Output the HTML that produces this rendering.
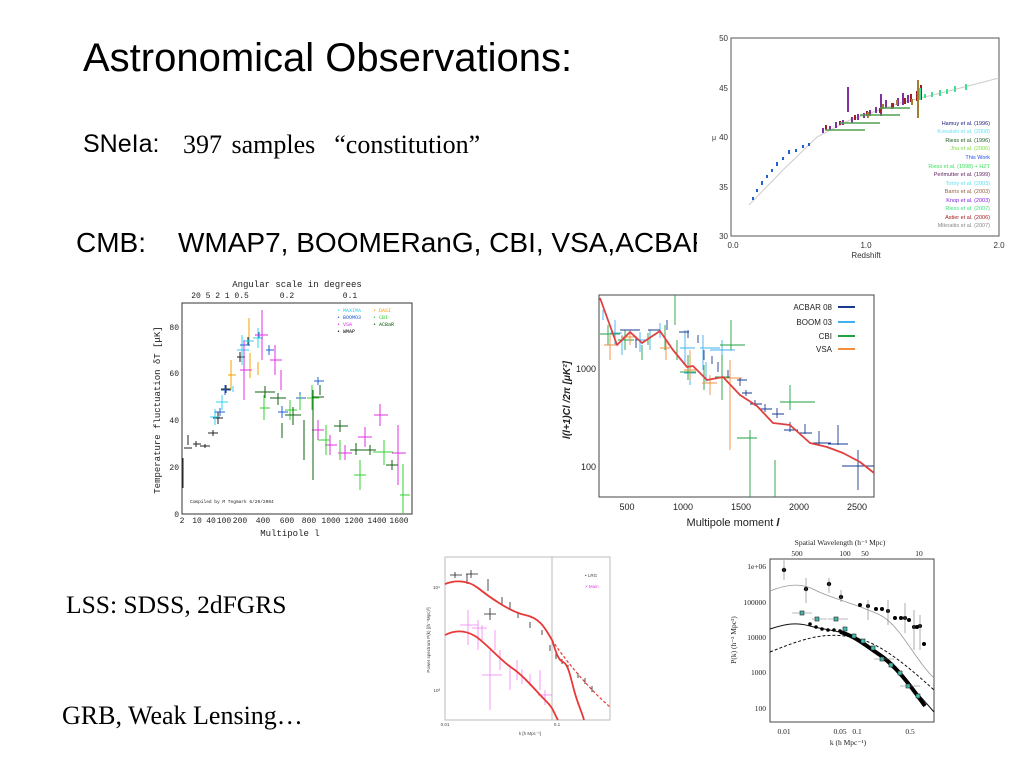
<!DOCTYPE html>
<html><head><meta charset="utf-8"><style>
body{margin:0;background:#fff;width:1024px;height:768px;overflow:hidden;position:relative;font-family:"Liberation Sans",sans-serif}
.t{position:absolute;white-space:nowrap;color:#000;line-height:1}
svg{position:absolute;left:0;top:0}
</style></head><body>
<div class="t" style="left:83px;top:38px;font-size:40px">Astronomical Observations:</div>
<div class="t" style="left:83px;top:132px;font-size:25px">SNeIa:</div>
<div class="t" style="left:183px;top:132px;font-size:26px;font-family:'Liberation Serif',serif;word-spacing:3px">397 samples &nbsp;“constitution”</div>
<div class="t" style="left:76px;top:229px;font-size:28px">CMB:</div>
<div class="t" style="left:178px;top:229px;font-size:28px">WMAP7, BOOMERanG, CBI, VSA,ACBAR</div>
<div class="t" style="left:66px;top:592px;font-size:25.5px;font-family:'Liberation Serif',serif">LSS: SDSS, 2dFGRS</div>
<div class="t" style="left:62px;top:703px;font-size:26px;font-family:'Liberation Serif',serif">GRB, Weak Lensing…</div>

<svg width="1024" height="768" viewBox="0 0 1024 768" font-family="Liberation Sans, sans-serif">
<defs><clipPath id="c2"><rect x="599" y="295" width="275" height="202"/></clipPath>
<clipPath id="c1"><rect x="182" y="303" width="230" height="211"/></clipPath></defs>
<!-- SN plot -->
<rect x="697" y="28" width="327" height="234" fill="#fff"/>
<rect x="731" y="38" width="268" height="198" fill="none" stroke="#555" stroke-width="1"/>
<g font-size="8" fill="#333" text-anchor="end">
<text x="728" y="41">50</text><text x="728" y="91">45</text><text x="728" y="140">40</text><text x="728" y="190">35</text><text x="728" y="239">30</text></g>
<g font-size="8" fill="#333" text-anchor="middle"><text x="733" y="248">0.0</text><text x="866" y="248">1.0</text><text x="999" y="248">2.0</text><text x="866" y="258">Redshift</text></g>
<text x="712" y="140" font-size="7" fill="#333">μ</text>
<polyline points="749,205 783,170 817,137 850,120 900,103 933,95 999,78" fill="none" stroke="#ccc" stroke-width="1"/>
<g stroke-width="2" fill="none">
<path d="M753,200v-3M757,192v-3M762,185v-4M767,178v-3M772,172v-3M777,166v-4M783,160v-3M789,154v-4M796,152v-3M803,148v-3M809,146v-3" stroke="#2060d0"/>
<path d="M823,133v-5M830,130v-4M836,128v-6M843,125v-5M848,112v-25M852,123v-6M858,120v-6M864,118v-5M870,116v-6M876,113v-6M881,116v-22M886,108v-8M892,109v-6M898,106v-8M903,105v-12M908,103v-8" stroke="#8030a0"/>
<path d="M826,130v-5M840,125v-4M855,120v-5M867,116v-5M880,113v-5M893,108v-5M905,104v-6M911,102v-8M917,101v-10M921,100v-15" stroke="#a02020"/>
<path d="M868,118v-6M883,109v-5M897,105v-5M912,105v-6M918,118v-38" stroke="#a08030"/>
<path d="M920,100v-12M925,98v-4M932,97v-5M940,96v-6M947,94v-5M955,92v-6M966,90v-6" stroke="#40e090"/>
<path d="M825,130h40M840,123h40M860,115h40M880,108h30" stroke="#50a050" stroke-width="1.5"/>
</g>
<g font-size="5.5" text-anchor="end">
<text x="990" y="125" fill="#202080">Hamuy et al. (1996)</text>
<text x="990" y="133" fill="#70e0f0">Kowalski et al. (2008)</text>
<text x="990" y="142" fill="#206020">Riess et al. (1996)</text>
<text x="990" y="150" fill="#80e040">Jha et al. (2006)</text>
<text x="990" y="159" fill="#2050f0">This Work</text>
<text x="990" y="168" fill="#40e060">Riess et al. (1998) + HZT</text>
<text x="990" y="176" fill="#602060">Perlmutter et al. (1999)</text>
<text x="990" y="185" fill="#60e0f0">Tonry et al. (2003)</text>
<text x="990" y="193" fill="#906040">Barris et al. (2003)</text>
<text x="990" y="202" fill="#8020e0">Knop et al. (2003)</text>
<text x="990" y="210" fill="#40e080">Riess et al. (2007)</text>
<text x="990" y="219" fill="#a02020">Astier et al. (2006)</text>
<text x="990" y="227" fill="#888">Miknaitis et al. (2007)</text>
</g>

<!-- Left CMB -->
<rect x="182" y="303" width="230" height="211" fill="none" stroke="#333"/>
<g font-family="Liberation Mono, monospace" font-size="8" fill="#222" text-anchor="middle">
<text x="297" y="287" font-size="9">Angular scale in degrees</text>
<text x="220" y="298">20 5 2 1 0.5</text><text x="287" y="298">0.2</text><text x="350" y="298">0.1</text>
<text x="182" y="523">2</text><text x="197" y="523">10</text><text x="211" y="523">40</text><text x="224" y="523">100</text><text x="240" y="523">200</text><text x="263" y="523">400</text><text x="287" y="523">600</text><text x="309" y="523">800</text><text x="331" y="523">1000</text><text x="354" y="523">1200</text><text x="377" y="523">1400</text><text x="399" y="523">1600</text>
<text x="290" y="536" font-size="9">Multipole l</text>
<g text-anchor="end"><text x="179" y="330">80</text><text x="179" y="376">60</text><text x="179" y="423">40</text><text x="179" y="470">20</text><text x="179" y="517">0</text></g>
<text transform="translate(160,410) rotate(-90)" font-size="9">Temperature fluctuation δT [μK]</text>
<text x="190" y="503" font-size="4.5" text-anchor="start">Compiled by M Tegmark 6/20/2004</text>
</g>
<g font-size="5" font-family="Liberation Mono, monospace">
<text x="337" y="312" fill="#30d0f0">• MAXIMA</text><text x="337" y="319" fill="#2060d0">• BOOMO3</text><text x="337" y="326" fill="#e030e0">• VSA</text><text x="337" y="333" fill="#000">• WMAP</text>
<text x="373" y="312" fill="#f0a000">• DASI</text><text x="373" y="319" fill="#30d030">• CBI</text><text x="373" y="326" fill="#106010">• ACBaR</text>
</g>
<g fill="none" stroke-width="1" clip-path="url(#c1)">
<path d="M183,488v-30M188,445v-10M184,448h8M196,447v-6M193,444h8M205,448v-4M200,446h10M213,436v-6M208,433h10M218,424v-12M213,418h10M226,393v-8M221,389h10M240,362v-10M237,357h8M248,345v-8M250,365v-6" stroke="#222"/>
<path d="M215,425v-16M210,417h10M222,410v-15M216,402h12M233,392v-6M242,365v-30M237,350h12M249,346v-10M244,341h10M258,348v-20M253,338h10" stroke="#30d0f0"/>
<path d="M220,416v-8M215,412h10M225,395v-10M221,390h10M244,350v-10M240,345h10M259,338v-6M255,335h10M269,355v-10M266,350h8M282,418v-12M278,412h10M300,404v-12M296,398h10M318,385v-8M314,381h10" stroke="#2060d0"/>
<path d="M231,390v-30M228,375h8M250,378v-25M249,338v-20M258,375v-13" stroke="#f0a000"/>
<path d="M244,400v-60M240,370h12M262,360v-50M256,335h12M275,375v-30M270,360h12M281,390v-20M318,440v-20M312,430h12M330,455v-20M325,445h12M345,460v-15M338,453h14M365,447v-20M358,437h14M380,426v-22M374,415h14M398,485v-60M392,453h14" stroke="#e030e0"/>
<path d="M264,420v-25M260,408h10M290,420v-20M285,410h12M300,410v-15M312,410v-25M307,398h12M326,455v-30M318,440h12M340,460v-20M360,490v-30M354,475h12M384,465v-25M373,452h20M403,514v-50M400,495h10" stroke="#30d030"/>
<path d="M265,398v-12M255,392h20M278,405v-12M270,398h16M282,438v-15M293,425v-18M285,415h16M304,460v-40M313,480v-90M312,397h12M320,395v-10M340,432v-12M334,426h14M356,455v-12M350,450h14M370,455v-10M362,450h14M392,470v-10M386,465h12" stroke="#106010"/>
</g>

<!-- Right CMB -->
<rect x="599" y="295" width="275" height="202" fill="none" stroke="#444"/>
<g font-size="9" fill="#222" text-anchor="middle">
<text x="627" y="510">500</text><text x="683" y="510">1000</text><text x="741" y="510">1500</text><text x="799" y="510">2000</text><text x="857" y="510">2500</text>
<text x="733" y="526" font-size="11">Multipole moment <tspan font-style="italic" font-weight="bold">l</tspan></text>
<g text-anchor="end"><text x="596" y="372">1000</text><text x="596" y="470">100</text></g>
<text transform="translate(570,400) rotate(-90)" font-size="10" font-weight="bold" font-style="italic">l(l+1)Cl /2π [μK²]</text>
</g>
<g font-size="8" fill="#222" text-anchor="end">
<text x="832" y="310">ACBAR 08</text><text x="832" y="325">BOOM 03</text><text x="832" y="339">CBI</text><text x="832" y="352">VSA</text></g>
<path d="M838,307h17" stroke="#1a3a90" stroke-width="2"/><path d="M838,322h17" stroke="#40b0f0" stroke-width="2"/><path d="M838,336h17" stroke="#20a040" stroke-width="2"/><path d="M838,349h17" stroke="#f09040" stroke-width="2"/>
<g fill="none" stroke-width="0.9" clip-path="url(#c2)">
<path d="M603,320v-10M615,345v-25M610,333h12M622,355v-20M640,352v-20M635,340h12M650,350v-20M660,338v-15M685,365v-35M680,348h15M690,385v-30M684,373h12M703,370v-35M700,348h20M706,382v-20M722,360v-20M710,350h25" stroke="#40b0f0"/>
<path d="M608,345v-20M600,334h20M625,350v-20M618,340h16M642,360v-15M648,345v-12M665,350v-25M675,325v-30M677,360v-20M688,380v-25M680,372h16M704,390v-25M722,400v-45M715,377h15M731,350v-30M720,345h25M750,560v-130M737,438h20M775,520v-60M790,410v-25M780,402h35" stroke="#20a040"/>
<path d="M610,360v-25M604,345h12M630,345v-15M621,337h16M666,360v-20M660,348h10M690,380v-30M684,370h12M710,395v-20M702,383h15M730,450v-90M718,378h24" stroke="#f09040"/>
<path d="M620,330h20M636,348v-10M648,330h12M667,330v-10M679,332h10M688,338v-8M698,343v-8M704,360v-10M712,364v-8M718,372v-10M728,378v-8M740,386v-8M737,380h10M746,396v-6M742,393h10M755,406v-6M750,404h12M765,412v-8M760,409h12M777,418v-10M772,414h12M790,432v-10M784,430h14M805,434v-10M798,433h14M819,446v-15M813,443h18M838,445v-20M828,444h20M858,490v-40M842,466h34" stroke="#1a3a90"/>
</g>
<polyline points="600,298 617,345 630,332 642,343 660,331 673,350 687,367 693,366 707,380 723,377 740,395 757,406 773,423 790,425 810,443 827,447 843,453 860,462 874,473" fill="none" stroke="#e04040" stroke-width="1.8" stroke-linejoin="round"/>

<!-- Left LSS -->
<rect x="445" y="557" width="165" height="163" fill="none" stroke="#bbb"/>
<path d="M552,557v163" stroke="#aaa" stroke-width="0.8"/>
<g font-size="4.5" fill="#444" text-anchor="middle">
<text x="445" y="726">0.01</text><text x="557" y="726">0.1</text><text x="530" y="735">k [h Mpc⁻¹]</text>
<text x="440" y="589" text-anchor="end">10⁴</text><text x="440" y="692" text-anchor="end">10³</text>
<text transform="translate(430,640) rotate(-90)">Power spectrum P(k) [(h⁻¹Mpc)³]</text>
<text x="585" y="577" text-anchor="start">• LRG</text><text x="585" y="588" text-anchor="start" fill="#e040e0">× Main</text>
</g>
<g stroke-width="0.8" fill="none">
<path d="M455,578v-6M450,575h12M467,584v-10M471,578v-8M466,574h12M488,591v-12M490,620v-12M484,614h12M502,605v-8M510,610v-8M518,618v-6M530,628v-6M542,635v-5M550,651v-6M556,659v-6M562,664v-5M568,670v-5M578,678v-5M585,684v-6M592,692v-6" stroke="#222"/>
<path d="M468,645v-35M460,625h18M478,650v-30M472,628h15M482,640v-15M490,710v-60M482,675h20M495,650v-20M500,670v-20M510,690v-25M517,680v-20M522,684v-15M530,686v-12M540,690v-20M545,705v-15M538,695h14" stroke="#f080f0"/>
</g>
<path d="M445,584 C455,580 468,580 478,588 S510,612 525,615 S545,628 552,640 C556,652 558,660 563,662 S570,675 574,690 S582,712 584,720" fill="none" stroke="#e83838" stroke-width="1.8"/>
<path d="M552,640 C565,660 590,690 610,707" fill="none" stroke="#e83838" stroke-width="1.2" stroke-dasharray="3,2"/>
<path d="M445,635 C455,630 465,630 475,636 S500,660 512,668 S535,690 545,700 S553,712 558,720" fill="none" stroke="#e83838" stroke-width="1.8"/>

<!-- Right LSS -->
<rect x="770" y="559" width="164" height="163" fill="none" stroke="#444"/>
<g font-family="Liberation Serif, serif" font-size="7.5" fill="#222" text-anchor="middle">
<text x="840" y="545">Spatial Wavelength (h⁻¹ Mpc)</text>
<text x="797" y="556">500</text><text x="845" y="556">100</text><text x="865" y="556">50</text><text x="919" y="556">10</text>
<text x="784" y="734">0.01</text><text x="840" y="734">0.05</text><text x="857" y="734">0.1</text><text x="910" y="734">0.5</text>
<text x="848" y="745">k (h Mpc⁻¹)</text>
<g text-anchor="end"><text x="766" y="569">1e+06</text><text x="766" y="605">100000</text><text x="766" y="640">10000</text><text x="766" y="675">1000</text><text x="766" y="711">100</text></g>
<text transform="translate(736,640) rotate(-90)">P(k) (h⁻³ Mpc³)</text>
</g>
<path d="M770,591 C785,585 800,582 815,590 S860,605 880,615 S915,660 934,678" fill="none" stroke="#999" stroke-width="0.8"/>
<path d="M770,629 C785,624 795,622 810,626 S840,630 855,638 S900,672 934,712" fill="none" stroke="#111" stroke-width="1"/>
<path d="M770,652 C800,640 820,633 845,636 S890,650 934,690" fill="none" stroke="#111" stroke-width="1" stroke-dasharray="3,2"/>
<g fill="#000">
<circle cx="784" cy="570" r="2.2"/><circle cx="806" cy="589" r="2.2"/><circle cx="829" cy="584" r="2.2"/><circle cx="841" cy="597" r="2.2"/><circle cx="860" cy="605" r="2"/><circle cx="868" cy="606" r="2"/><circle cx="876" cy="609" r="2"/><circle cx="882" cy="609" r="2"/><circle cx="888" cy="611" r="2"/><circle cx="895" cy="618" r="2"/><circle cx="901" cy="618" r="2"/><circle cx="905" cy="618" r="2"/><circle cx="909" cy="620" r="2"/><circle cx="914" cy="627" r="2"/><circle cx="917" cy="627" r="2"/><circle cx="920" cy="626" r="2"/><circle cx="924" cy="644" r="2"/>
<circle cx="810" cy="624" r="1.8"/><circle cx="816" cy="627" r="1.8"/><circle cx="822" cy="629" r="1.8"/><circle cx="828" cy="630" r="1.8"/><circle cx="834" cy="630" r="1.8"/><circle cx="840" cy="631" r="1.8"/>
</g>
<path d="M840,632 C855,636 865,645 880,655 S910,685 925,706" fill="none" stroke="#000" stroke-width="4"/>
<g fill="#40c0b0" stroke="#222" stroke-width="0.6">
<rect x="800" y="611" width="4" height="4"/><rect x="815" y="617" width="4" height="4"/><rect x="834" y="617" width="4" height="4"/><rect x="843" y="627" width="4" height="4"/><rect x="852" y="634" width="4" height="4"/><rect x="861" y="639" width="4" height="4"/><rect x="871" y="646" width="4" height="4"/><rect x="880" y="657" width="4" height="4"/><rect x="889" y="663" width="4" height="4"/><rect x="898" y="671" width="4" height="4"/><rect x="906" y="684" width="4" height="4"/><rect x="916" y="694" width="4" height="4"/>
</g>
<g stroke="#777" stroke-width="0.6" fill="none">
<path d="M784,560v20M806,578v25M829,578v15M841,590v12M868,600v20M888,600v25M905,603v30M914,610v40M920,615v35"/>
<path d="M792,613h20M812,619h15M828,619h20M874,659h20M900,686h20"/>
</g>
</svg>
</body></html>
